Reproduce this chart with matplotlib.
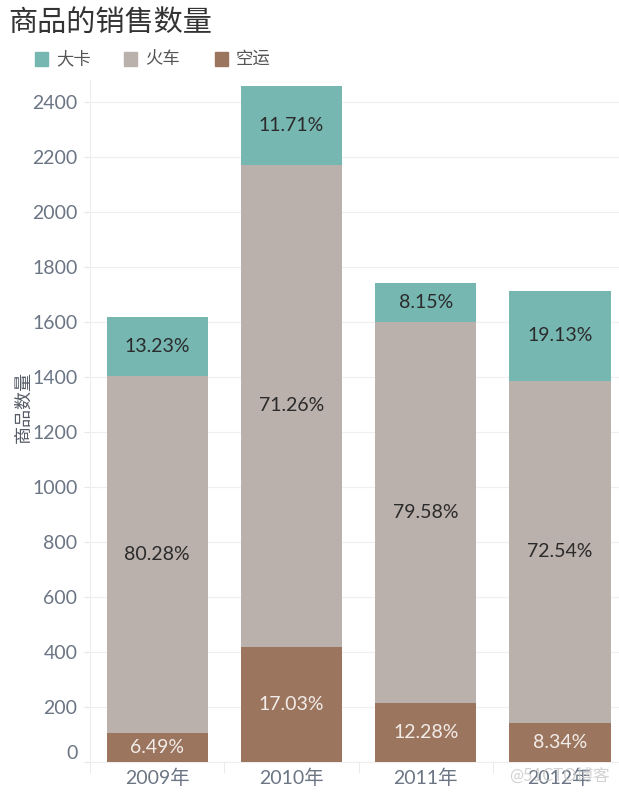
import matplotlib.pyplot as plt
import numpy as np

plt.rcParams['font.family'] = ['Lato', 'Noto Sans CJK SC', 'DejaVu Sans']

# 数据
years = ["2009年", "2010年", "2011年", "2012年"]
kongyun = [105, 419, 214, 143]      # 空运
huoche = [1299, 1752, 1386, 1243]   # 火车
kache = [214, 288, 142, 328]        # 大卡
pct_kongyun = ["6.49%", "17.03%", "12.28%", "8.34%"]
pct_huoche = ["80.28%", "71.26%", "79.58%", "72.54%"]
pct_kache = ["13.23%", "11.71%", "8.15%", "19.13%"]

c_kache = "#76B7B2"
c_huoche = "#BAB0AC"
c_kongyun = "#9C755F"
tick_color = "#6b7584"

fig = plt.figure(figsize=(6.19, 7.95), dpi=100)
ax = fig.add_axes([90 / 619, 1 - 762 / 795, 1 - 90 / 619, (762 - 80) / 795])

x = np.arange(len(years))
w = 0.754
kongyun = np.array(kongyun)
huoche = np.array(huoche)
kache = np.array(kache)

ax.bar(x, kongyun, w, color=c_kongyun, zorder=3)
ax.bar(x, huoche, w, bottom=kongyun, color=c_huoche, zorder=3)
ax.bar(x, kache, w, bottom=kongyun + huoche, color=c_kache, zorder=3)

for i in range(len(years)):
    ax.text(x[i], kongyun[i] / 2, pct_kongyun[i], ha="center", va="center",
            fontsize=14, color="#f2ece8", zorder=4)
    ax.text(x[i], kongyun[i] + huoche[i] / 2, pct_huoche[i], ha="center", va="center",
            fontsize=14, color="#2b2b2b", zorder=4)
    ax.text(x[i], kongyun[i] + huoche[i] + kache[i] / 2, pct_kache[i], ha="center",
            va="center", fontsize=14, color="#2b2b2b", zorder=4)

ax.set_xlim(-0.5, 3.44)
ax.set_ylim(0, 2480)
ax.set_yticks(range(0, 2401, 200))
ax.set_yticklabels([str(v) for v in range(0, 2401, 200)])
ax.tick_params(axis="y", colors="#e6e6e6", labelcolor=tick_color, labelsize=14, length=4, pad=5)
for lab in ax.get_yticklabels():
    if lab.get_text() == "0":
        lab.set_va("bottom")

ax.set_xticks(x)
ax.set_xticklabels(years)
ax.tick_params(axis="x", length=0, labelcolor=tick_color, labelsize=14, pad=5)
ax.set_xticks(np.arange(-0.5, 3.5, 1), minor=True)
ax.tick_params(axis="x", which="minor", length=8, color="#e6e6e6")

ax.grid(axis="y", color="#f0f0f0", linewidth=0.9, zorder=0)
for s in ["top", "right"]:
    ax.spines[s].set_visible(False)
ax.spines["left"].set_color("#eeeeee")
ax.spines["bottom"].set_color("#eeeeee")

ax.set_ylabel("商品数量", fontsize=13, color="#555b66")
ax.yaxis.set_label_coords(-58 / 529, 0.52)

fig.text(8 / 619, 1 - 22 / 795, "商品的销售数量", fontsize=21, color="#333333", va="center")

# 图例
legend_items = [("大卡", c_kache, 35), ("火车", c_huoche, 124), ("空运", c_kongyun, 215)]
for name, col, px in legend_items:
    fig.patches.append(plt.Rectangle((px / 619, 1 - 66 / 795), 13 / 619, 14 / 795,
                                     transform=fig.transFigure, color=col, figure=fig))
    fig.text((px + 21) / 619, 1 - 59 / 795, name, fontsize=12.5, color="#555555", va="center")

fig.text(0.985, 1 - 776 / 795, "@51CTO博客", fontsize=12, color="#c8c8c8",
         ha="right", va="center", alpha=0.8)

fig.savefig("out.png", dpi=100)
